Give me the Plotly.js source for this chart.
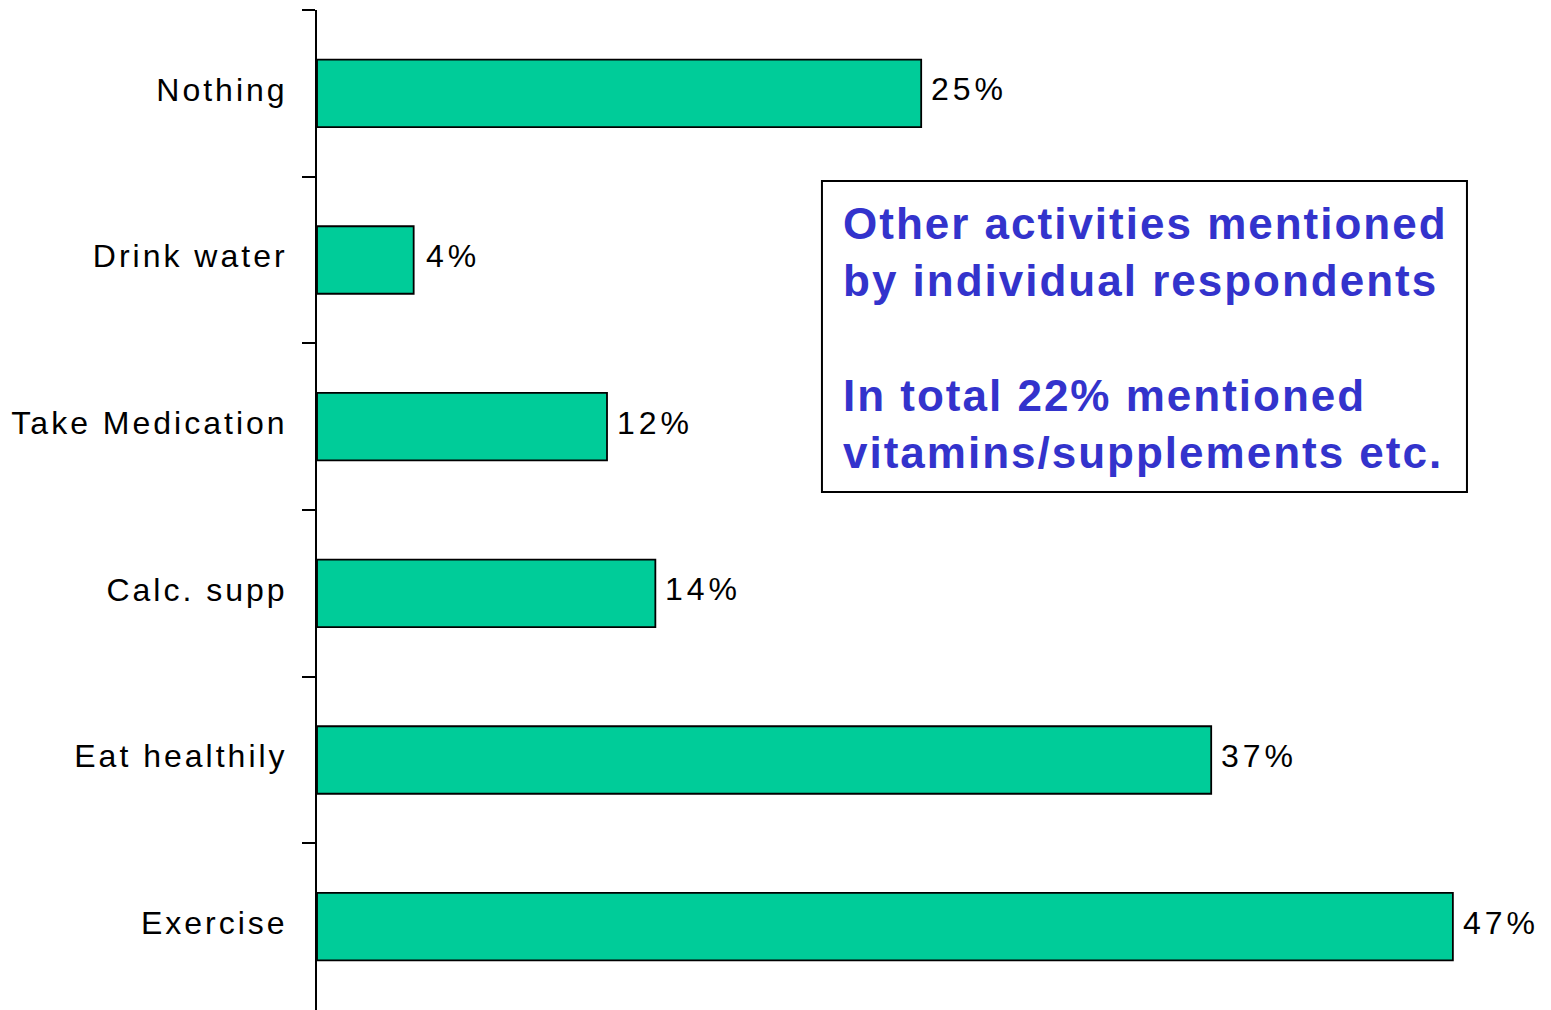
<!DOCTYPE html>
<html>
<head>
<meta charset="utf-8">
<script src="https://cdn.plot.ly/plotly-3.0.1.min.js"></script>
<style>
  html, body { margin: 0; padding: 0; background: #ffffff; }
  #chart { width: 1551px; height: 1010px; }
  .ytick text { letter-spacing: 3px; }
  .annotation.val text { letter-spacing: 4px; }
  .annotation.note text { letter-spacing: 2px; }
</style>
</head>
<body>
<div id="chart"></div>
<script>
// Data (top to bottom as shown)
var categories = ["Nothing", "Drink water", "Take Medication", "Calc. supp", "Eat healthily", "Exercise"];
var values = [25, 4, 12, 14, 37, 47];
var valueLabels = values.map(function (v) { return v + "%"; });
var noteLines = ["Other activities mentioned", "by individual respondents", "", "In total 22% mentioned", "vitamins/supplements etc."];

var trace = {
  type: "bar",
  orientation: "h",
  y: categories,
  x: values,
  marker: { color: "#00CC99", line: { color: "#000000", width: 1.8 } },
  hoverinfo: "none",
  showlegend: false
};

var valueAnnotations = values.map(function (v, i) {
  return {
    x: v, y: categories[i], xref: "x", yref: "y",
    text: valueLabels[i], showarrow: false,
    xanchor: "left", yanchor: "middle", xshift: 14, yshift: 4,
    font: { family: "Liberation Sans, Arial, sans-serif", size: 32, color: "#000000" }
  };
});

var noteAnnotation = {
  x: 0.4245, y: 0.6725, xref: "paper", yref: "paper",
  text: noteLines.join("<br>"), showarrow: false,
  xanchor: "left", yanchor: "middle", align: "left",
  font: { family: "Liberation Sans, Arial, sans-serif", size: 44, color: "#3333CC", weight: "bold" }
};

var layout = {
  width: 1551, height: 1010,
  margin: { l: 317, r: 0, t: 10, b: 0, pad: 0 },
  paper_bgcolor: "#ffffff", plot_bgcolor: "#ffffff",
  bargap: 0.595,
  xaxis: {
    range: [0, 51.06], visible: false, showgrid: false, zeroline: false, fixedrange: true
  },
  yaxis: {
    type: "category", autorange: "reversed",
    showline: true, linecolor: "#000000", linewidth: 2,
    ticks: "outside", tickson: "boundaries", ticklen: 13, tickwidth: 2, tickcolor: "#000000",
    ticklabelstandoff: 21, ticklabelshift: 4,
    tickfont: { family: "Liberation Sans, Arial, sans-serif", size: 32, color: "#000000" },
    showgrid: false, zeroline: false, fixedrange: true
  },
  shapes: [{
    type: "rect", xref: "paper", yref: "paper",
    x0: 0.4092, x1: 0.9319, y0: 0.518, y1: 0.829,
    line: { color: "#000000", width: 2 }, fillcolor: "rgba(0,0,0,0)"
  }],
  annotations: valueAnnotations.concat([noteAnnotation]),
  showlegend: false
};

Plotly.newPlot("chart", [trace], layout, { displayModeBar: false, staticPlot: true }).then(function () {
  var anns = document.querySelectorAll(".annotation");
  for (var i = 0; i < anns.length; i++) {
    anns[i].classList.add(i < values.length ? "val" : "note");
  }
});
</script>
</body>
</html>
